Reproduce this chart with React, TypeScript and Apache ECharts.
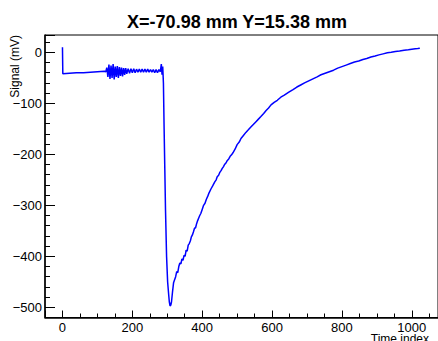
import React, { useEffect, useRef } from 'react';
import * as echarts from 'echarts';

const titleText = 'X=-70.98 mm Y=15.38 mm';
const xTitle = 'Time index';
const yTitle = 'Signal (mV)';

const timeIdx = [
  0, 1, 2, 20, 40, 60, 80, 100, 120, 124,
  127, 130, 133, 136, 139, 142, 145, 148, 151, 154, 157, 160, 163, 166, 169, 172, 175, 178, 181, 184,
  188, 192, 196, 200, 204, 208, 212, 216, 220, 224, 228, 232, 236, 240, 244, 248, 252, 256, 260, 264,
  268, 272, 276, 280, 283, 285, 287, 289, 291, 293, 295, 298, 301, 304, 306, 308, 310, 312, 315, 318,
  321, 324, 327, 330, 333, 336, 339, 342, 345, 348, 351, 354, 357, 360, 363, 366, 369, 372, 375, 378,
  381, 384, 387, 390, 393, 396, 400, 404, 408, 412, 416, 420, 425, 430, 436, 440, 443, 447, 450, 454,
  457, 461, 464, 468, 472, 476, 480, 484, 488, 494, 500, 506, 511, 518, 525, 532, 540, 547, 554, 561,
  568, 576, 583, 590, 597, 606, 615, 625, 635, 648, 660, 671, 682, 693, 705, 717, 729, 740, 752, 764,
  776, 788, 800, 812, 824, 836, 848, 860, 871, 883, 895, 906, 918, 930, 941, 953, 965, 978, 990, 1000,
  1010, 1017, 1023,
];

const signal = [
  10, -42, -42, -41, -40, -40, -39, -38, -37, -38,
  -30, -48, -24, -52, -26, -50, -23, -53, -28, -48, -27, -50, -29, -46, -30, -47, -31, -44, -31, -42,
  -32, -41, -32, -40, -32, -40, -33, -39, -33, -39, -33, -39, -33, -39, -33, -39, -34, -39, -34, -40,
  -34, -40, -34, -38, -23, -44, -28, -60, -150, -230, -310, -400, -450, -475, -490, -497, -496, -490, -470, -452,
  -446, -440, -430, -432, -420, -413, -415, -405, -408, -398, -400, -388, -390, -378, -375, -370, -362, -358, -352, -345,
  -344, -336, -330, -325, -320, -316, -308, -300, -296, -288, -282, -275, -268, -262, -254, -250, -244, -241, -236, -232,
  -228, -224, -220, -217, -212, -209, -204, -201, -197, -190, -181, -176, -169, -163, -157, -152, -146, -141, -136, -131,
  -126, -120, -114, -109, -103, -98, -94, -88, -84, -78, -73, -68, -64, -60, -56, -52, -48, -44, -41, -38,
  -35, -31, -28, -25, -22, -19, -17, -14, -12, -9, -7, -5, -3, -1, 0, 1.5, 2.5, 4, 5, 6,
  7, 7.5, 8,
];

const xMin = -50;
const xMax = 1075;
const yMin = -520;
const yMax = 34;

const FONT = "'Liberation Sans', Arial, sans-serif";

export default function App() {
  const ref = useRef<HTMLDivElement>(null);
  useEffect(() => {
    const chart = echarts.init(ref.current!, null, { renderer: 'svg' });
    const data = timeIdx.map((t, i) => [t, signal[i]]);
    const fmt = (v: number) => {
      const r = Math.round(v);
      return r < 0 ? '\u2212' + Math.abs(r) : String(r);
    };
    const labelStyle = { fontSize: 13, color: '#000', fontFamily: FONT };
    chart.setOption({
      animation: false,
      grid: {
        left: 45,
        right: -6,
        top: 35,
        bottom: 23.5,
        show: true,
        borderColor: '#000',
        borderWidth: 1,
        containLabel: false,
      },
      xAxis: [
        {
          type: 'value',
          position: 'bottom',
          min: xMin,
          max: xMax,
          interval: 50,
          axisLine: { show: true, onZero: false, lineStyle: { color: '#000', width: 1.5 } },
          axisTick: { show: true, inside: true, length: 4, lineStyle: { color: '#000', width: 1 } },
          axisLabel: {
            ...labelStyle,
            margin: 3,
            showMinLabel: false,
            showMaxLabel: false,
            formatter: (v: number) => (Math.round(v) % 200 === 0 ? fmt(v) : ''),
          },
          splitLine: { show: false },
        },
        {
          type: 'value',
          position: 'bottom',
          min: xMin,
          max: xMax,
          splitNumber: 5,
          axisLine: { show: false, onZero: false },
          axisTick: { show: true, inside: true, length: 7, lineStyle: { color: '#000', width: 1 } },
          axisLabel: { show: false },
          splitLine: { show: false },
        },
      ],
      yAxis: [
        {
          type: 'value',
          position: 'left',
          min: yMin,
          max: yMax,
          interval: 20,
          axisLine: { show: true, onZero: false, lineStyle: { color: '#000', width: 1.5 } },
          axisTick: { show: true, inside: true, length: 5, lineStyle: { color: '#000', width: 1 } },
          axisLabel: {
            ...labelStyle,
            margin: 3,
            showMinLabel: false,
            showMaxLabel: false,
            formatter: (v: number) => (Math.round(v) % 100 === 0 ? fmt(v) : ''),
          },
          splitLine: { show: false },
        },
        {
          type: 'value',
          position: 'left',
          min: yMin,
          max: yMax,
          splitNumber: 5,
          axisLine: { show: false, onZero: false },
          axisTick: { show: true, inside: true, length: 10, lineStyle: { color: '#000', width: 1 } },
          axisLabel: { show: false },
          splitLine: { show: false },
        },
      ],
      series: [
        {
          type: 'line',
          xAxisIndex: 0,
          yAxisIndex: 0,
          data,
          showSymbol: false,
          symbol: 'none',
          clip: true,
          lineStyle: { color: '#0000ff', width: 1.5 },
        },
      ],
      graphic: [
        {
          type: 'text',
          x: 237,
          y: 22,
          style: {
            text: titleText,
            fontSize: 18,
            fontWeight: 'bold',
            fontFamily: FONT,
            fill: '#000',
            align: 'center',
            textAlign: 'center',
            verticalAlign: 'middle',
            textVerticalAlign: 'middle',
          },
        },
        {
          type: 'text',
          x: 14.5,
          y: 35,
          rotation: Math.PI / 2,
          style: {
            text: yTitle,
            fontSize: 12,
            fontFamily: FONT,
            fill: '#000',
            align: 'right',
            textAlign: 'right',
            verticalAlign: 'middle',
            textVerticalAlign: 'middle',
          },
        },
        {
          type: 'text',
          x: 429,
          y: 333,
          style: {
            text: xTitle,
            fontSize: 12,
            fontFamily: FONT,
            fill: '#000',
            align: 'right',
            textAlign: 'right',
            verticalAlign: 'top',
            textVerticalAlign: 'top',
          },
        },
      ],
    });
    return () => chart.dispose();
  }, []);
  return (
    <div
      ref={ref}
      style={{ position: 'absolute', left: 0, top: 0, width: 438, height: 341 }}
    />
  );
}
